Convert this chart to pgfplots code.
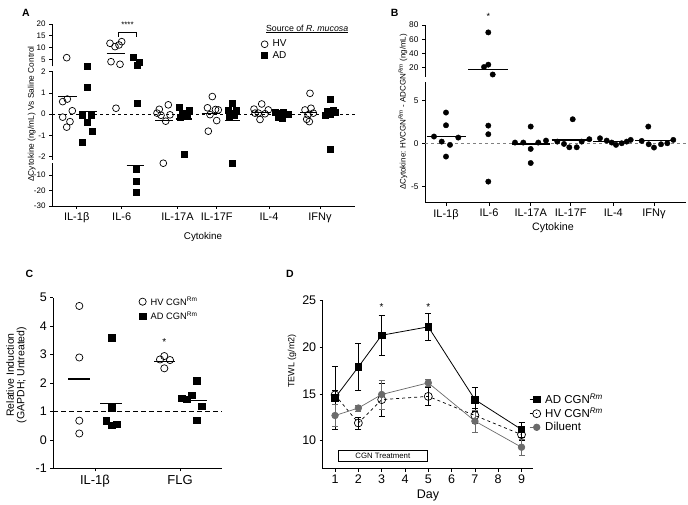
\documentclass[border=0pt]{standalone}
\usepackage{pgfplots}
\pgfplotsset{compat=1.18}
\usepackage{pgfplotstable}
\usepackage{fontspec}
\setmainfont{Liberation Sans}
\newcommand{\fsz}[1]{\fontsize{#1}{#1}\selectfont}
\definecolor{dgray}{gray}{0.42}

% ---------------- Panel A data (x = horizontal position, y = value) -------------
\pgfplotstableread{
x y
66.7 5.7
62.7 0.59
67.3 0.71
72.3 0.16
62.7 -0.14
70 -0.35
66.7 -0.61
110 11.8
115 10.4
119 11.1
121.7 12.5
111 4.0
120 2.9
116 0.28
159.3 0.23
168.3 0.44
157 0.05
161 -0.05
170 -0.03
165.7 -0.33
163.3 -2.4
212.3 0.83
207.5 0.30
215.5 0.22
218.3 0.20
210 -0.02
216.7 -0.30
208.3 -0.80
254 0.24
261.7 0.48
268.3 0.20
258.3 0.05
265 0.02
260 -0.25
255 0.05
310 0.98
305 0.20
311 0.28
313.3 0.05
308 -0.03
306.7 -0.24
309.3 -0.35
}\AHV
\pgfplotstableread{
x y
87.3 2.2
87.3 1.25
82.3 -0.03
91 -0.03
87.3 -0.38
91.7 -0.82
82.3 -1.32
133.3 5.85
136.7 2.6
139.3 3.7
136.7 0.5
135.7 -6.1
135.7 -13.7
135.7 -20.8
179 0.33
189.3 0.20
181.7 0.05
186.7 -0.08
180 -0.14
183.3 -0.04
183.7 -1.86
232.3 0.50
228 0.20
236 0.20
230 0.05
234 -0.05
229 -0.15
232.3 -2.45
275 0.10
279 0.05
283 0.08
286 -0.02
278 -0.12
282 -0.18
288 0.00
330 0.70
326.7 0.12
333.3 0.20
325 -0.03
330 0.02
335 0.10
330 -1.65
}\AAD
\pgfplotstableread{
x y
58.3 0.83
76.7 0.83
nan nan
79.3 0.12
96.7 0.12
nan nan
106.7 7.5
125 7.5
nan nan
126.7 -4.0
144 -4.0
nan nan
155 -0.30
173.3 -0.30
nan nan
175.7 -0.22
191.7 -0.22
nan nan
201.7 0.02
220 0.02
nan nan
225 -0.30
240 -0.30
nan nan
251.7 0.08
270 0.08
nan nan
271.7 -0.03
288.3 -0.03
nan nan
300 0.08
316.7 0.08
nan nan
321.7 -0.07
336.7 -0.07
}\Ameans

% ---------------- Panel B data ----------------
\pgfplotstableread{
x y
446 3.57
446 2.09
434 0.78
441.7 0.19
450 -0.19
458.3 0.66
446 -1.55
488.3 69.6
488.3 24.3
484 21.0
492.7 10.5
488.3 2.05
488.3 1.05
488.3 -4.46
515 0.08
523.3 0.08
530.7 1.94
530.7 -0.66
530.7 -2.3
538.3 0.08
546 0.31
557.3 0.19
564 -0.08
572.7 2.79
569.3 -0.47
576.7 -0.47
581.7 0.19
589.3 0.47
600 0.58
606.7 0.31
611.7 0.08
616 -0.19
621.7 0.0
626.7 0.19
630.7 0.39
641.7 0.27
648.7 -0.12
654 -0.5
648.3 1.94
661 -0.12
667.3 0.0
673.3 0.39
}\BDat
\pgfplotstableread{
x y
426.7 0.77
466 0.77
nan nan
468.3 17.5
507.7 17.5
nan nan
511.7 -0.08
550 -0.08
nan nan
551.7 0.39
591.7 0.39
nan nan
593.3 0.19
631.7 0.19
nan nan
635 0.31
675 0.31
}\Bmeans

% ---------------- Panel C data ----------------
\pgfplotstableread{
x y
79.3 4.71
79.3 2.90
79.3 0.68
79.3 0.23
160 2.83
164.3 2.95
170 2.81
164.3 2.52
}\CHV
\pgfplotstableread{
x y
111.7 3.6
111.7 1.14
106 0.68
111.7 0.53
116.7 0.56
196.7 2.08
181.7 1.46
191.7 1.58
186.7 1.43
201.7 1.19
196.7 0.70
}\CAD
\pgfplotstableread{
x y
68.3 2.14
90 2.14
nan nan
100 1.29
121.7 1.29
nan nan
154 2.75
175 2.75
nan nan
187.3 1.40
206.7 1.40
}\Cmeans

% ---------------- Panel D data ----------------
\pgfplotstableread{
day ad ade hv hve dil dile
1 14.6 3.4 14.9 0.5 12.7 1.2
2 17.9 2.5 11.9 0.65 13.5 0.3
3 21.3 2.1 14.4 1.8 14.95 1.55
5 22.2 1.45 14.75 0.95 16.2 0.35
7 14.4 1.3 12.7 0.8 12.1 1.2
9 11.2 0.8 10.65 0.6 9.3 0.9
}\Dtab

\pgfplotsset{
  gp/.style={
    scale only axis, clip=false, enlargelimits=false,
    axis line style={line width=0.7pt, black, -},
    every tick/.style={line width=0.7pt, black},
    tick align=outside, major tick length=3pt,
    /pgf/number format/assume math mode=true,
    axis y line*=left,
    unbounded coords=discard,
  },
  nox/.style={axis x line=none, xtick=\empty},
  botx/.style={axis x line*=bottom},
}

\newcommand{\Aplots}{%
  \addplot[only marks, mark=o, mark size=3.4pt, black, line width=0.7pt] table {\AHV};
  \addplot[only marks, mark=square*, mark size=3pt, black] table {\AAD};
  \addplot[black, line width=1.3pt, unbounded coords=jump] table {\Ameans};
}
\newcommand{\Bplots}{%
  \addplot[only marks, mark=*, mark size=2.7pt, black] table {\BDat};
  \addplot[black, line width=1.3pt, unbounded coords=jump] table {\Bmeans};
}

\begin{document}
\begin{tikzpicture}
\path[use as bounding box] (0pt,0pt) rectangle (688pt,505pt);

% ================= Panel A =================
\begin{axis}[gp, nox, at={(52pt,438.6pt)}, anchor=south west,
  width=303pt, height=42.4pt, xmin=52, xmax=355, ymin=2, ymax=20,
  ytick={5,10,15,20}, yticklabel style={font=\fsz{8}},
  restrict y to domain=2.05:40,
  legend style={at={(0.68,0.72)}, anchor=north west, draw=none, fill=none,
    font=\fsz{10}, row sep=-1pt, legend cell align=left,
    /tikz/every odd column/.style={column sep=2.5pt}},
  legend entries={HV, AD}]
  \Aplots
  \draw[line width=0.6pt] (axis cs:118.3,14.6) -- (axis cs:118.3,16.5) -- (axis cs:136.7,16.5) -- (axis cs:136.7,14.6);
  \node[font=\fsz{8}] at (axis cs:127.5,19.6) {****};
\end{axis}
\begin{axis}[gp, nox, at={(52pt,345.1pt)}, anchor=south west,
  width=303pt, height=89.3pt, xmin=52, xmax=355, ymin=-2.15, ymax=2.05,
  ytick={-2,-1,0,1,2}, yticklabel style={font=\fsz{8}},
  restrict y to domain=-2.15:2.05]
  \addplot[black, dashed, line width=0.6pt, forget plot] coordinates {(52,0) (355,0)};
  \Aplots
\end{axis}
\begin{axis}[gp, botx, at={(52pt,299pt)}, anchor=south west,
  width=303pt, height=43.4pt, xmin=52, xmax=355, ymin=-30, ymax=-2,
  ytick={-30,-20,-10}, yticklabel style={font=\fsz{8}},
  xtick={76.7,121.7,177.5,216.7,269,320},
  xticklabels={IL-1β,IL-6,IL-17A,IL-17F,IL-4,IFNγ},
  xticklabel style={font=\fsz{11}},
  restrict y to domain=-40:-2.15]
  \Aplots
\end{axis}
\node[font=\bfseries\fsz{10.5}] at (25.8pt,492pt) {A};
\node[rotate=90, font=\fsz{8.3}] at (31.7pt,391pt) {ΔCytokine (ng/mL) Vs Saline Control};
\node[font=\fsz{9.8}] at (203pt,268pt) {Cytokine};
\node[font=\fsz{8.8}, anchor=west] at (262.5pt,476pt) {\underline{Source of \textit{R. mucosa}}};

% ================= Panel B =================
\begin{axis}[gp, nox, at={(425pt,428pt)}, anchor=south west,
  width=261pt, height=52pt, xmin=425, xmax=686, ymin=7, ymax=80,
  ytick={20,40,60,80}, yticklabel style={font=\fsz{8.3}},
  restrict y to domain=7.2:200]
  \Bplots
  \node[font=\fsz{9}] at (axis cs:488.3,92) {*};
\end{axis}
\begin{axis}[gp, botx, at={(425pt,302.4pt)}, anchor=south west,
  width=261pt, height=120.4pt, xmin=425, xmax=686, ymin=-6.9, ymax=7.1,
  ytick={-5,0,5}, yticklabel style={font=\fsz{8.3}},
  xtick={446,489,530.7,570.7,613.3,654},
  xticklabels={IL-1β,IL-6,IL-17A,IL-17F,IL-4,IFNγ},
  xticklabel style={font=\fsz{11}},
  restrict y to domain=-10:7.2]
  \addplot[gray, dashed, line width=0.5pt, forget plot] coordinates {(425,0) (686,0)};
  \Bplots
\end{axis}
\node[font=\bfseries\fsz{10.5}] at (394.7pt,492pt) {B};
\node[rotate=90, font=\fsz{8}] at (403pt,393pt) {ΔCytokine: HVCGN\textsuperscript{\itshape Rm} - ADCGN\textsuperscript{\itshape Rm} (ng/mL)};
\node[font=\fsz{10.7}] at (553pt,277pt) {Cytokine};

% ================= Panel C =================
\begin{axis}[gp, botx, at={(53.3pt,36.5pt)}, anchor=south west,
  width=168.4pt, height=170.8pt, xmin=53.3, xmax=221.7, ymin=-1, ymax=5,
  ytick={-1,0,1,2,3,4,5}, yticklabel style={font=\fsz{12.5}},
  xtick={95,180}, xticklabels={IL-1β,FLG}, xticklabel style={font=\fsz{13}},
  legend style={at={(0.49,1.03)}, anchor=north west, draw=none, fill=none,
    font=\fsz{9.3}, row sep=1pt, legend cell align=left,
    /tikz/every odd column/.style={column sep=2.5pt}}]
  \addplot[black, line width=1.2pt, dash pattern=on 5pt off 3pt, forget plot] coordinates {(53.3,1) (221.7,1)};
  \addplot[only marks, mark=o, mark size=3.6pt, black, line width=0.7pt] table {\CHV};
  \addlegendentry{HV CGN\textsuperscript{Rm}}
  \addplot[only marks, mark=square*, mark size=3.2pt, black] table {\CAD};
  \addlegendentry{AD CGN\textsuperscript{Rm}}
  \addplot[black, line width=1.3pt, unbounded coords=jump, forget plot] table {\Cmeans};
  \node[font=\fsz{10}] at (axis cs:164.3,3.45) {*};
\end{axis}
\node[font=\bfseries\fsz{10.5}] at (29.3pt,231pt) {C};
\node[rotate=90, align=center, font=\fsz{10.5}] at (16.5pt,130pt) {Relative Induction\\(GAPDH; Untreated)};

% ================= Panel D =================
\begin{axis}[gp, botx, at={(322.7pt,36.3pt)}, anchor=south west,
  width=210pt, height=168pt, xmin=0.47, xmax=9.48, ymin=7, ymax=25,
  ytick={10,15,20,25}, xtick={1,...,9},
  ticklabel style={font=\fsz{12.5}},
  legend style={at={(0.968,0.332)}, anchor=west, draw=none, fill=none,
    font=\fsz{11.5}, row sep=-1pt, legend cell align=left,
    /tikz/every odd column/.style={column sep=2.5pt}},
  legend image code/.code={\draw[#1, mark=none] (-0.05cm,0cm) -- (0.2cm,0cm); \draw[#1, only marks] plot coordinates {(0.2cm,0cm)};}]
  \addplot[black, line width=0.8pt, mark=square*, mark size=3.3pt,
    error bars/.cd, y dir=both, y explicit,
    error bar style={line width=0.6pt, black, solid},
    error mark options={rotate=90, mark size=3pt, line width=0.6pt}]
    table[x=day, y=ad, y error=ade] {\Dtab};
  \addlegendentry{AD CGN\textsuperscript{\itshape Rm}}
  \addplot[black, line width=0.7pt, dashed, mark=o, mark size=4pt, mark options={solid},
    error bars/.cd, y dir=both, y explicit,
    error bar style={line width=0.6pt, black, solid},
    error mark options={rotate=90, mark size=3pt, line width=0.6pt}]
    table[x=day, y=hv, y error=hve] {\Dtab};
  \addlegendentry{HV CGN\textsuperscript{\itshape Rm}}
  \addplot[dgray, line width=0.7pt, mark=*, mark size=3.3pt,
    error bars/.cd, y dir=both, y explicit,
    error bar style={line width=0.6pt, dgray, solid},
    error mark options={rotate=90, mark size=3pt, line width=0.6pt, dgray}]
    table[x=day, y=dil, y error=dile] {\Dtab};
  \addlegendentry{Diluent}
  \draw[line width=0.7pt] (axis cs:1.14,7.75) rectangle (axis cs:4.96,9.0);
  \node[font=\fsz{7.8}] at (axis cs:3.05,8.375) {CGN Treatment};
  \node[font=\fsz{10}] at (axis cs:3,24.3) {*};
  \node[font=\fsz{10}] at (axis cs:5,24.3) {*};
\end{axis}
\node[font=\bfseries\fsz{10.5}] at (290pt,231pt) {D};
\node[rotate=90, font=\fsz{9}] at (292pt,144pt) {TEWL (g/m2)};
\node[font=\fsz{12.5}] at (428pt,9pt) {Day};
\end{tikzpicture}
\end{document}
